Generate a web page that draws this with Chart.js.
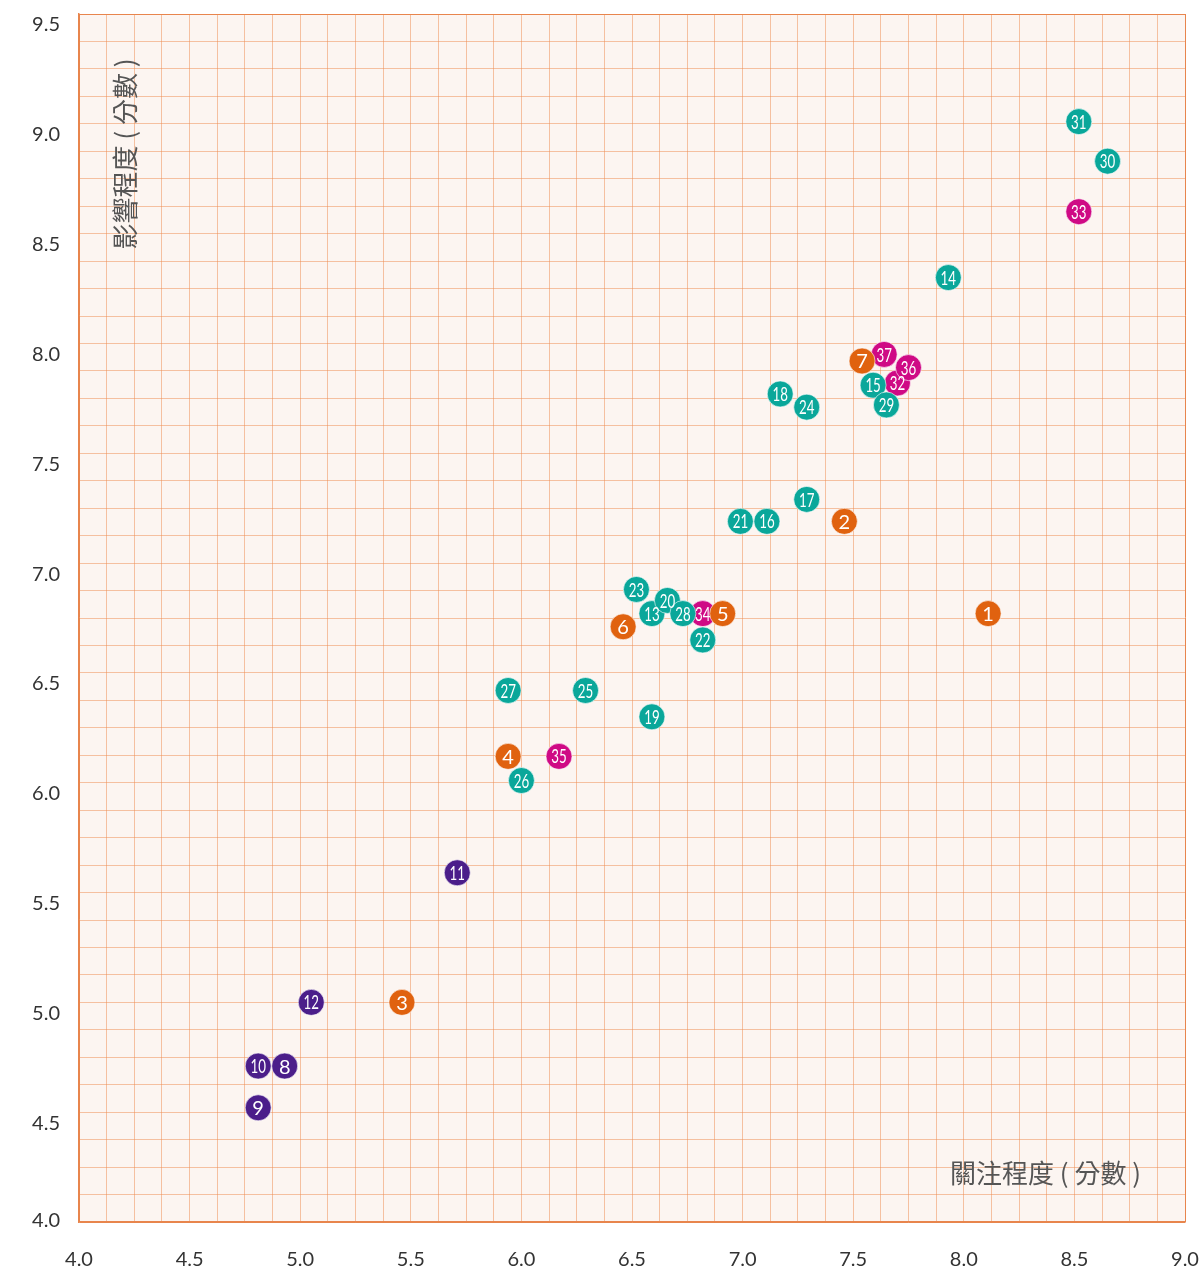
<!DOCTYPE html>
<html>
<head>
<meta charset="utf-8">
<script src="https://cdn.jsdelivr.net/npm/chart.js@4.4.1/dist/chart.umd.min.js"></script>
<style>
  body { margin: 0; background: #fff; }
  #wrap { width: 1202px; height: 1269px; }
</style>
</head>
<body>
<div id="wrap"><canvas id="chart"></canvas></div>
<script>
// Données : numéro, 關注程度 (x), 影響程度 (y)
const tealIds = [13, 14, 15, 16, 17, 18, 19, 20, 21, 22, 23, 24, 25, 26, 27, 28, 29, 30, 31];
const tealX = [6.59, 7.93, 7.59, 7.11, 7.29, 7.17, 6.59, 6.66, 6.99, 6.82, 6.52, 7.29, 6.29, 6.00, 5.94, 6.73, 7.65, 8.65, 8.52];
const tealY = [6.77, 8.30, 7.81, 7.19, 7.29, 7.77, 6.30, 6.83, 7.19, 6.65, 6.88, 7.71, 6.42, 6.01, 6.42, 6.77, 7.72, 8.83, 9.01];

const orangeIds = [1, 2, 3, 4, 5, 6, 7];
const orangeX = [8.11, 7.46, 5.46, 5.94, 6.91, 6.46, 7.54];
const orangeY = [6.77, 7.19, 5.00, 6.12, 6.77, 6.71, 7.92];

const magentaIds = [32, 33, 34, 35, 36, 37];
const magentaX = [7.70, 8.52, 6.82, 6.17, 7.75, 7.64];
const magentaY = [7.82, 8.60, 6.77, 6.12, 7.89, 7.95];

const purpleIds = [8, 9, 10, 11, 12];
const purpleX = [4.93, 4.81, 4.81, 5.71, 5.05];
const purpleY = [4.71, 4.52, 4.71, 5.59, 5.00];

const xMin = 4, xMax = 9;
const yMin = 4, yMax = 9.5;
const gridStep = 0.125;
const xTitle = "關注程度 ( 分數 )";
const yTitle = "影響程度 ( 分數 )";

const borderOrange = "#E8854D";
const gridOrange = "rgba(238, 140, 80, 0.5)";

function makeSet(ids, xs, ys, color) {
  return {
    data: xs.map((x, i) => ({ x: x, y: ys[i] })),
    ids: ids,
    backgroundColor: color,
    borderColor: "rgba(255,255,255,0.6)",
    borderWidth: 1,
    pointRadius: 13,
    pointHoverRadius: 13,
  };
}

// Fond de la zone + titres des axes
const decorPlugin = {
  id: "decor",
  beforeDraw(chart) {
    const { ctx, chartArea: a } = chart;
    ctx.save();
    ctx.fillStyle = "#FCF5F1";
    ctx.fillRect(a.left, a.top, a.right - a.left, a.bottom - a.top);
    ctx.restore();
  },
  afterDraw(chart) {
    const { ctx, chartArea: a } = chart;
    ctx.save();
    ctx.fillStyle = "#555";
    ctx.font = '26px "Noto Sans CJK TC", sans-serif';
    ctx.textBaseline = "middle";
    ctx.textAlign = "right";
    ctx.fillText(xTitle, a.right - 44, a.bottom - 49);
    ctx.translate(a.left + 46, a.top + 140);
    ctx.rotate(-Math.PI / 2);
    ctx.textAlign = "center";
    ctx.fillText(yTitle, 0, 0);
    ctx.restore();
  },
};

// Numéros dans les points
const labelPlugin = {
  id: "pointLabels",
  afterDatasetDraw(chart, args) {
    const { ctx } = chart;
    const ds = chart.data.datasets[args.index];
    const meta = chart.getDatasetMeta(args.index);
    ctx.save();
    ctx.fillStyle = "#fff";
    ctx.textAlign = "center";
    ctx.textBaseline = "middle";
    meta.data.forEach((pt, i) => {
      const txt = String(ds.ids[i]);
      ctx.save();
      ctx.translate(pt.x, pt.y + 1);
      if (txt.length > 1) {
        ctx.scale(0.7, 1);
        ctx.font = '19px "Lato", sans-serif';
      } else {
        ctx.font = '20px "Lato", sans-serif';
      }
      ctx.fillText(txt, 0, 0);
      ctx.restore();
    });
    ctx.restore();
  },
};

function tickLabel(value) {
  if (Math.abs(value * 2 - Math.round(value * 2)) > 1e-6) return "";
  return value.toFixed(1);
}

function gridColor(ctx, lo, hi) {
  const v = ctx.tick ? ctx.tick.value : null;
  if (v === lo || v === hi) return borderOrange;
  return gridOrange;
}

new Chart(document.getElementById("chart"), {
  type: "scatter",
  data: {
    datasets: [
      makeSet(tealIds, tealX, tealY, "#0AA79A"),
      makeSet(orangeIds, orangeX, orangeY, "#E0620F"),
      makeSet(magentaIds, magentaX, magentaY, "#CF0A85"),
      makeSet(purpleIds, purpleX, purpleY, "#4B1E8A"),
    ],
  },
  options: {
    responsive: true,
    maintainAspectRatio: false,
    animation: false,
    layout: { padding: { top: 13, right: 17, left: 0, bottom: 0 } },
    plugins: {
      legend: { display: false },
      tooltip: { enabled: false },
    },
    scales: {
      x: {
        type: "linear",
        min: xMin,
        max: xMax,
        afterFit(scale) {
          scale.height = 47;
          scale.paddingLeft = 0;
          scale.paddingRight = 0;
        },
        border: { color: borderOrange, width: 1.5 },
        grid: {
          color: (c) => gridColor(c, xMin, xMax),
          lineWidth: 1,
          drawTicks: false,
        },
        ticks: {
          stepSize: gridStep,
          autoSkip: false,
          maxRotation: 0,
          padding: 26,
          color: "#333",
          font: { family: "Lato", size: 20 },
          callback: (v) => tickLabel(v),
        },
      },
      y: {
        type: "linear",
        min: yMin,
        max: yMax,
        afterFit(scale) {
          scale.width = 79;
          scale.paddingTop = 0;
          scale.paddingBottom = 0;
        },
        border: { color: borderOrange, width: 1.5 },
        grid: {
          color: (c) => gridColor(c, yMin, yMax),
          lineWidth: 1,
          drawTicks: false,
        },
        ticks: {
          stepSize: gridStep,
          autoSkip: false,
          padding: 19,
          labelOffset: 11,
          color: "#333",
          font: { family: "Lato", size: 20 },
          callback: (v) => {
            const t = tickLabel(v);
            if (v === yMin) return [t, ""];
            return t;
          },
        },
      },
    },
  },
  plugins: [decorPlugin, labelPlugin],
});
</script>
</body>
</html>
